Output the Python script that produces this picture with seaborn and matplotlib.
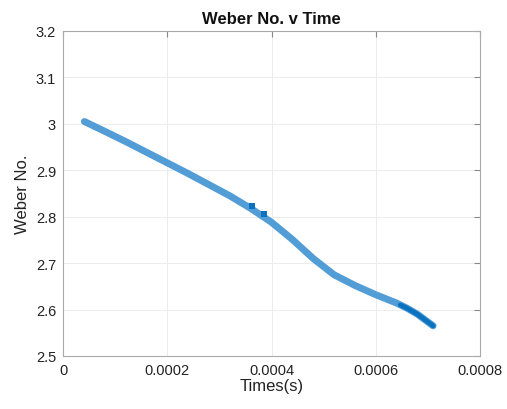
import matplotlib
matplotlib.use("Agg")
import matplotlib.pyplot as plt
import seaborn as sns
import pandas as pd

# Data
time_s = [0.000041, 0.00008, 0.00012, 0.00016, 0.0002, 0.00024, 0.00028, 0.00032,
          0.00036, 0.0004, 0.00044, 0.00048, 0.00052, 0.00056, 0.0006, 0.00064,
          0.00066, 0.00068, 0.00071]
weber = [3.005, 2.984, 2.962, 2.939, 2.916, 2.893, 2.869, 2.845,
         2.818, 2.788, 2.751, 2.710, 2.675, 2.652, 2.632, 2.614,
         2.603, 2.590, 2.565]
dark_t = [0.000363, 0.000386]
dark_w = [2.823, 2.806]
tail_t = [0.000647, 0.00066, 0.00068, 0.00071]
tail_w = [2.610, 2.603, 2.590, 2.565]

x_ticks = [0, 0.0002, 0.0004, 0.0006, 0.0008]
x_labels = ["0", "0.0002", "0.0004", "0.0006", "0.0008"]
y_ticks = [2.5, 2.6, 2.7, 2.8, 2.9, 3.0, 3.1, 3.2]
y_labels = ["2.5", "2.6", "2.7", "2.8", "2.9", "3", "3.1", "3.2"]

sns.set_style("white")
plt.rcParams['font.family'] = ['Liberation Sans', 'DejaVu Sans']

fig = plt.figure(figsize=(5.07, 4.10), dpi=100)
ax = fig.add_axes([63/507, 53/410, 417/507, 325/410])

df = pd.DataFrame({"t": time_s, "w": weber})
sns.lineplot(data=df, x="t", y="w", ax=ax, color="#539dd7", linewidth=5,
             solid_capstyle="round", solid_joinstyle="round", zorder=3)
sns.lineplot(x=tail_t, y=tail_w, ax=ax, color="#0a72bf", linewidth=3.5,
             solid_capstyle="round", solid_joinstyle="round", zorder=4)
sns.scatterplot(x=dark_t, y=dark_w, ax=ax, color="#0a72bf", marker="s", s=22,
                linewidth=0, zorder=5)

ax.set_xlim(0, 0.0008)
ax.set_ylim(2.5, 3.2)
ax.set_xticks(x_ticks)
ax.set_xticklabels(x_labels)
ax.set_yticks(y_ticks)
ax.set_yticklabels(y_labels)
ax.grid(True, color="#ececec", linewidth=0.7)
ax.set_axisbelow(True)
for s in ax.spines.values():
    s.set_color("#aaaaaa")
    s.set_linewidth(0.8)
ax.tick_params(direction="in", length=4, color="#888888", labelsize=10.5,
               labelcolor="#222222", top=True, right=True, pad=5)
ax.set_xlabel("Times(s)", fontsize=12, color="#222222", labelpad=1)
ax.set_ylabel("Weber No.", fontsize=12, color="#222222", labelpad=4)
ax.set_title("Weber No. v Time", fontsize=12, fontweight="bold", color="#111111", pad=6)

fig.savefig("out.png", dpi=100)
